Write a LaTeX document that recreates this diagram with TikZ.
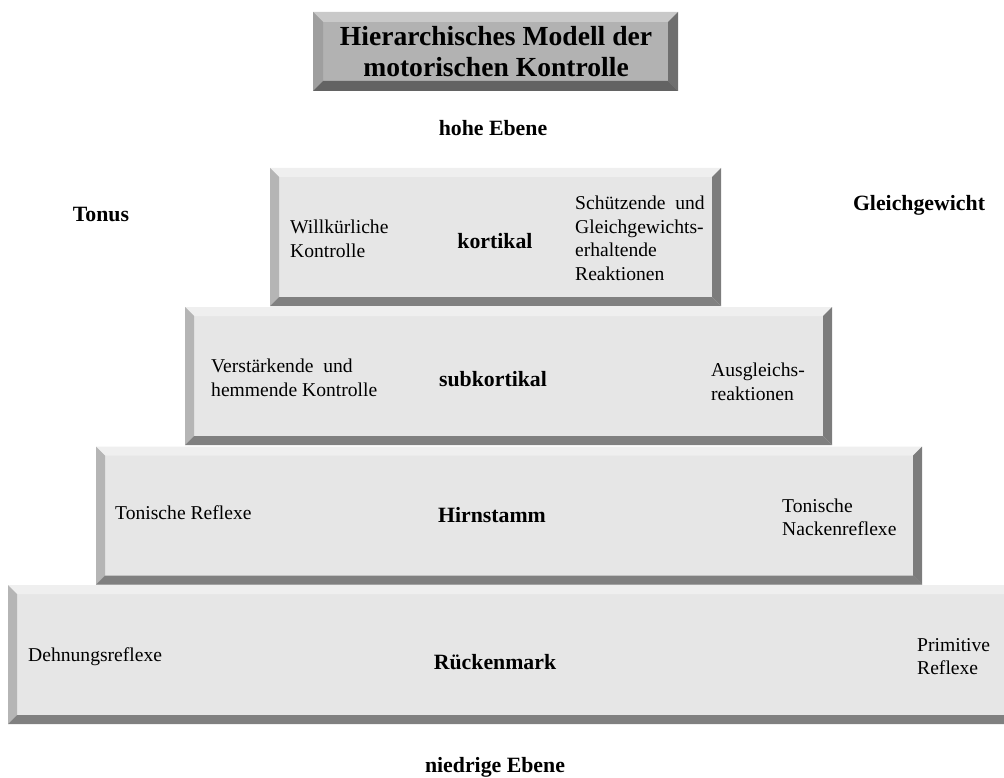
\documentclass[tikz,border=0pt]{standalone}
\usepackage{fontspec}
\setmainfont{Liberation Serif}
\usetikzlibrary{calc}

\definecolor{faceL}{HTML}{E6E6E6}
\definecolor{topL}{HTML}{EFEFEF}
\definecolor{leftL}{HTML}{B5B5B5}
\definecolor{rightL}{HTML}{7C7C7C}
\definecolor{botL}{HTML}{808080}
\definecolor{faceT}{HTML}{B2B2B2}
\definecolor{topT}{HTML}{C9C9C9}
\definecolor{leftT}{HTML}{9F9F9F}
\definecolor{rightT}{HTML}{6F6F6F}
\definecolor{botT}{HTML}{636363}

% bevelled faces around a rectangular node:
% #1 node, #2 bevel width, #3 top, #4 left, #5 right, #6 bottom colour
\newcommand\bevelframe[6]{%
  \fill[#3] (#1.north west) -- (#1.north east)
     -- ([xshift=-#2,yshift=-#2]#1.north east) -- ([xshift=#2,yshift=-#2]#1.north west) -- cycle;
  \fill[#4] (#1.north west) -- ([xshift=#2,yshift=-#2]#1.north west)
     -- ([xshift=#2,yshift=#2]#1.south west) -- (#1.south west) -- cycle;
  \fill[#5] (#1.north east) -- (#1.south east)
     -- ([xshift=-#2,yshift=#2]#1.south east) -- ([xshift=-#2,yshift=-#2]#1.north east) -- cycle;
  \fill[#6] (#1.south west) -- (#1.south east)
     -- ([xshift=-#2,yshift=#2]#1.south east) -- ([xshift=#2,yshift=#2]#1.south west) -- cycle;
}

\tikzset{
  levelbox/.style={rectangle, fill=faceL, inner sep=0pt, outer sep=0pt},
  titlebox/.style={rectangle, fill=faceT, inner sep=0pt, outer sep=0pt},
  body/.style={inner sep=0pt, align=left, anchor=west,
    font=\fontsize{19.6}{23.5}\selectfont},
  level/.style={inner sep=0pt, font=\fontsize{21.8}{26}\selectfont\bfseries},
}

\begin{document}
\begin{tikzpicture}[x=1pt, y=-1pt]
\useasboundingbox (0,0) rectangle (1004,778);
\clip (0,0) rectangle (1004,778);

% title
\node[titlebox, minimum width=365pt, minimum height=79pt] (title) at (495.5,51.5) {};
\bevelframe{title}{10pt}{topT}{leftT}{rightT}{botT}
\node[inner sep=0pt, align=center, font=\fontsize{27.6}{31}\selectfont\bfseries]
  (titletext) at (496,52) {Hierarchisches Modell der\\motorischen Kontrolle};

% pyramid levels, bottom first
\node[levelbox, minimum width=1006pt, minimum height=139pt] (ruecken) at (511,654.5) {};
\bevelframe{ruecken}{9pt}{topL}{leftL}{rightL}{botL}
\node[levelbox, minimum width=826pt, minimum height=138pt] (hirn) at (509,515.5) {};
\bevelframe{hirn}{9pt}{topL}{leftL}{rightL}{botL}
\node[levelbox, minimum width=647pt, minimum height=138pt] (sub) at (508.5,376) {};
\bevelframe{sub}{9pt}{topL}{leftL}{rightL}{botL}
\node[levelbox, minimum width=451pt, minimum height=138pt] (kort) at (495.5,237) {};
\bevelframe{kort}{9pt}{topL}{leftL}{rightL}{botL}

% level labels
\node[level] (kortlab) at (495,241) {kortikal};
\node[level] (sublab) at (493,379) {subkortikal};
\node[level] (hirnlab) at (492,515) {Hirnstamm};
\node[level] (rueckenlab) at (495,662) {Rückenmark};

% functions per level
\node[body] (willk) at (290,239) {Willkürliche\\Kontrolle};
\node[body] (schuetz) at (575,238.5) {Schützende\ \ und\\Gleichgewichts-\\erhaltende\\Reaktionen};
\node[body] (verst) at (211,378) {Verstärkende\ \ und\\hemmende Kontrolle};
\node[body] (ausgl) at (711,382) {Ausgleichs-\\reaktionen};
\node[body] (tonref) at (115,513) {Tonische Reflexe};
\node[body] (nacken) at (782,517.5) {Tonische\\Nackenreflexe};
\node[body] (dehn) at (28,657) {Dehnungsreflexe};
\node[body] (prim) at (917,656.5) {Primitive\\Reflexe};

% side and axis labels
\node[level] (hoch) at (493,128) {hohe Ebene};
\node[level] (tonus) at (101,214) {Tonus};
\node[level] (gleich) at (919,205) {Gleichgewicht};
\node[level] (niedrig) at (495,767) {niedrige Ebene};
\end{tikzpicture}
\end{document}
